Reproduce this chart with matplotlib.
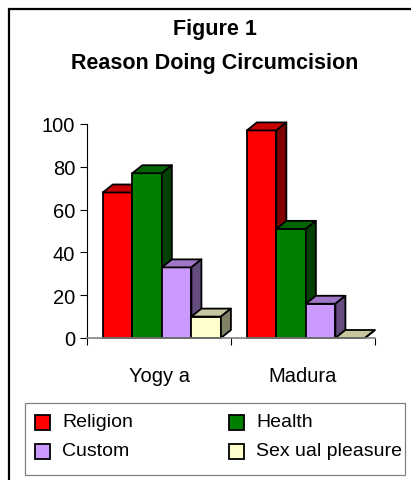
import numpy as np
import matplotlib.pyplot as plt
from matplotlib.patches import Polygon, Rectangle

categories = ['Yogy a', 'Madura']
series = ['Religion', 'Health', 'Custom', 'Sex ual pleasure']
values = {
    'Religion': [68, 97],
    'Health': [77, 51],
    'Custom': [33, 16],
    'Sex ual pleasure': [10, 0],
}
yticks = [0, 20, 40, 60, 80, 100]
front = ['#FF0000', '#008000', '#CC99FF', '#FFFFCC']


def shade(c, f):
    c = c.lstrip('#')
    r, g, b = (int(c[i:i + 2], 16) for i in (0, 2, 4))
    return (r * f / 255, g * f / 255, b * f / 255)


W, H = 411, 481
plt.rcParams['font.family'] = ['Liberation Sans', 'DejaVu Sans']
fig = plt.figure(figsize=(W / 100, H / 100), dpi=100)

# outer frame
fig.patches.append(Rectangle((9 / W, -0.05), 1.1, 1 - 10 / H + 0.05, transform=fig.transFigure,
                             fill=False, ec='black', lw=1.6))

fig.text(215 / W, 1 - 30 / H, 'Figure 1', ha='center', va='center', fontsize=15.5,
         fontweight='bold')
fig.text(215 / W, 1 - 63 / H, 'Reason Doing Circumcision', ha='center', va='center',
         fontsize=15.5, fontweight='bold')

ax_l, ax_r, ax_b, ax_t = 87, 375, 339, 125
ax = fig.add_axes([ax_l / W, 1 - ax_b / H, (ax_r - ax_l) / W, (ax_b - ax_t) / H])
ax.set_xlim(0, 2)
ax.set_ylim(0, 100)

# depth of the 3d effect, in pixels -> data units
dx = 10 / ((ax_r - ax_l) / 2)
dy = 8 / ((ax_b - ax_t) / 100)
w = 0.205
for i in range(len(categories)):
    for j, s in enumerate(series):
        x0 = i + 0.11 + j * w
        v = values[s][i]
        col = front[j]
        kw = dict(ec='black', lw=1.3, clip_on=False, joinstyle='round')
        ax.add_patch(Polygon([(x0, 0), (x0 + w, 0), (x0 + w, v), (x0, v)], fc=col, **kw))
        ax.add_patch(Polygon([(x0, v), (x0 + w, v), (x0 + w + dx, v + dy), (x0 + dx, v + dy)],
                             fc=shade(col, 0.78), **kw))
        ax.add_patch(Polygon([(x0 + w, 0), (x0 + w + dx, dy), (x0 + w + dx, v + dy), (x0 + w, v)],
                             fc=shade(col, 0.5), **kw))

for sp in ['top', 'right']:
    ax.spines[sp].set_visible(False)
ax.spines['left'].set_color('black')
ax.spines['bottom'].set_color('#808080')
ax.spines['bottom'].set_linewidth(1.2)
ax.set_yticks(yticks)
ax.tick_params(axis='y', direction='out', length=5, width=0.8, pad=3.5, labelsize=14.5)
ax.set_xticks([0.5, 1.5])
ax.set_xticklabels(categories)
ax.set_xticks([0, 1, 2], minor=True)
ax.tick_params(axis='x', which='major', length=0, pad=20, labelsize=14.5)
ax.tick_params(axis='x', which='minor', direction='out', length=5, width=0.8)

# legend box
fig.patches.append(Rectangle((25 / W, 1 - 476 / H), 380 / W, 72 / H, transform=fig.transFigure,
                             fill=False, ec='#808080', lw=0.9))
pos = [(35, 423), (229, 423), (35, 452), (229, 452)]
for (px, py), s, col in zip(pos, series, front):
    fig.patches.append(Rectangle((px / W, 1 - (py + 8) / H), 15 / W, 15 / H,
                                 transform=fig.transFigure, fc=col, ec='black', lw=1.3))
    fig.text((px + 27) / W, 1 - py / H, s, ha='left', va='center', fontsize=14)

fig.savefig('out.png', dpi=100)
